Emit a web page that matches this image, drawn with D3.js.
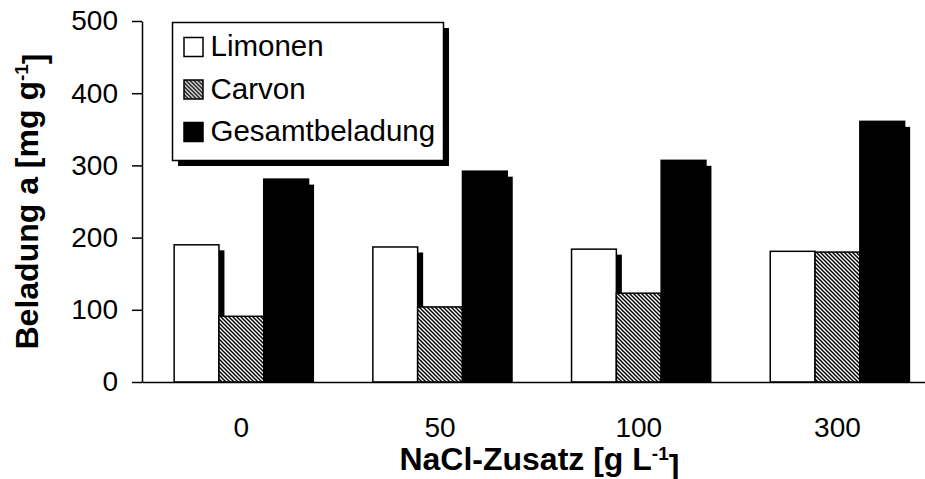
<!DOCTYPE html>
<html>
<head>
<meta charset="utf-8">
<script src="https://cdn.jsdelivr.net/npm/d3@7"></script>
<style>
  body { margin: 0; background: #fff; }
  svg { display: block; font-family: "Liberation Sans", Arial, sans-serif; }
</style>
</head>
<body>
<figure id="chart" style="margin:0"></figure>
<script>
// data
const categories = ["0", "50", "100", "300"];
const seriesNames = ["Limonen", "Carvon", "Gesamtbeladung"];
const limonen = [190, 187, 184, 181];
const carvon = [91, 104, 123, 180];
const gesamt = [281, 292, 307, 361];
const yTicks = [0, 100, 200, 300, 400, 500];

const width = 925;
const height = 479;
const plotLeft = 142;
const plotTop = 21;
const plotBottom = 382;
const step = 198.7;
const shadow = 5.5;

const fills = ["#fff", "url(#hatch)", "#000"];
const values = [limonen, carvon, gesamt];

const svg = d3.select("figure#chart")
  .append("svg")
  .attr("width", width)
  .attr("height", height);

// diagonal hatch for Carvon
const pattern = svg.append("defs")
  .append("pattern")
  .attr("id", "hatch")
  .attr("patternUnits", "userSpaceOnUse")
  .attr("width", 4)
  .attr("height", 4);
pattern.append("rect").attr("width", 4).attr("height", 4).attr("fill", "#fff");
pattern.append("path")
  .attr("d", "M-1,-1L5,5M3,-1L5,1M-1,3L1,5")
  .attr("stroke", "#000")
  .attr("stroke-width", 1.5);

const x = d3.scaleBand()
  .domain(categories)
  .range([plotLeft, plotLeft + step * categories.length])
  .paddingInner(0.3236)
  .paddingOuter(0.1618);

const xs = d3.scaleBand()
  .domain(seriesNames)
  .range([0, x.bandwidth()]);

const y = d3.scaleLinear()
  .domain([0, 500])
  .range([plotBottom, plotTop]);

// bars, each with its drop shadow, drawn left to right
const rows = [];
categories.forEach((c, i) => {
  seriesNames.forEach((s, j) => {
    rows.push({ cat: c, name: s, value: values[j][i], fill: fills[j] });
  });
});

const bar = svg.append("g")
  .selectAll("g")
  .data(rows)
  .enter()
  .append("g");

bar.append("rect")
  .attr("x", d => x(d.cat) + xs(d.name) + shadow)
  .attr("y", d => y(d.value) + shadow)
  .attr("width", xs.bandwidth())
  .attr("height", d => plotBottom - y(d.value) - shadow)
  .attr("fill", "#000");

bar.append("rect")
  .attr("x", d => x(d.cat) + xs(d.name))
  .attr("y", d => y(d.value))
  .attr("width", xs.bandwidth())
  .attr("height", d => plotBottom - y(d.value))
  .attr("fill", d => d.fill)
  .attr("stroke", "#000")
  .attr("stroke-width", 1.5);

// axes
const yAxis = svg.append("g")
  .attr("transform", "translate(" + plotLeft + ",0)")
  .call(d3.axisLeft(y).tickValues(yTicks).tickSize(10).tickSizeOuter(0).tickPadding(14));

const xAxis = svg.append("g")
  .attr("transform", "translate(0," + plotBottom + ")")
  .call(d3.axisBottom(x).tickSize(0).tickPadding(35));

[yAxis, xAxis].forEach(a => {
  a.selectAll("path, line").attr("stroke", "#000").attr("stroke-width", 1.5);
  a.selectAll("text")
    .attr("fill", "#000")
    .style("font-family", "'Liberation Sans', Arial, sans-serif")
    .style("font-size", "28px");
});

// axis titles
const yTitle = svg.append("text")
  .attr("transform", "translate(38," + (plotTop + plotBottom) / 2 + ") rotate(-90)")
  .attr("text-anchor", "middle")
  .style("font-size", "32px")
  .style("font-weight", "bold");
yTitle.append("tspan").text("Beladung a [mg g");
yTitle.append("tspan").attr("dy", "-0.55em").style("font-size", "19px").text("-1");
yTitle.append("tspan").attr("dy", "0.55em").text("]");

const xTitle = svg.append("text")
  .attr("x", plotLeft + step * 2)
  .attr("y", 470)
  .attr("text-anchor", "middle")
  .style("font-size", "32px")
  .style("font-weight", "bold");
xTitle.append("tspan").text("NaCl-Zusatz [g L");
xTitle.append("tspan").attr("dy", "-0.55em").style("font-size", "19px").text("-1");
xTitle.append("tspan").attr("dy", "0.55em").text("]");

// legend box with shadow
const legend = svg.append("g");
legend.append("rect")
  .attr("x", 172.5 + shadow).attr("y", 22.5 + shadow)
  .attr("width", 271).attr("height", 138)
  .attr("fill", "#000");
legend.append("rect")
  .attr("x", 172.5).attr("y", 22.5)
  .attr("width", 271).attr("height", 138)
  .attr("fill", "#fff")
  .attr("stroke", "#000")
  .attr("stroke-width", 1.5);

const item = legend.selectAll("g.item")
  .data(seriesNames)
  .enter()
  .append("g")
  .attr("class", "item")
  .attr("transform", (d, i) => "translate(0," + (56 + i * 42.5) + ")");

item.append("rect")
  .attr("x", 184).attr("y", -18.5)
  .attr("width", 19).attr("height", 19)
  .attr("fill", (d, i) => fills[i])
  .attr("stroke", "#000")
  .attr("stroke-width", 1.5);

item.append("text")
  .attr("x", 210.5)
  .style("font-size", "29.5px")
  .text(d => d);
</script>
</body>
</html>
